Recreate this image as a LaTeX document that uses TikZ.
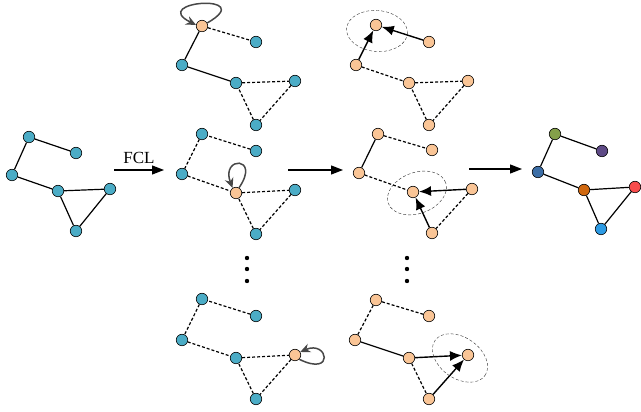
\documentclass[tikz,border=0pt]{standalone}
\usepackage{fontspec}
\setmainfont{Liberation Serif}
\usetikzlibrary{arrows.meta,shapes.geometric}

\definecolor{nodeblue}{HTML}{4BACC6}
\definecolor{nodepeach}{HTML}{FAC596}
\definecolor{colA}{HTML}{84A04A}
\definecolor{colB}{HTML}{5E4A86}
\definecolor{colC}{HTML}{3C6EA6}
\definecolor{colD}{HTML}{D0680F}
\definecolor{colE}{HTML}{F84C4C}
\definecolor{colF}{HTML}{2D9BE4}

\begin{document}
\begin{tikzpicture}[
	x=1pt, y=1pt,
	vertex/.style={ circle, draw, line width=0.6pt, inner sep=0pt, minimum size=11.5pt },
	vertexb/.style={ vertex, fill=nodeblue },
	vertexp/.style={ vertex, fill=nodepeach },
	vertexc/.style={ vertex, fill=#1 },
	link/.style={ line width=1.2pt },
	linkd/.style={ line width=1.2pt, dash pattern=on 3pt off 2pt },
	pass/.style={ line width=1.4pt, -{Latex[length=12pt,width=10pt]} },
	selfloop/.style={ draw=black!72, line width=1.5pt, -{Stealth[length=10pt,width=9pt]} },
	stage/.style={ line width=1.2pt, -{Triangle[length=12pt,width=9pt]} },
	ring/.style={ ellipse, draw=black!80, thin, dash pattern=on 3pt off 2pt, inner sep=0pt, minimum width=61pt, minimum height=41pt }
]
\useasboundingbox (0,0) rectangle (641,412);

% input graph
\node at (29,275) (ga) [vertexb] {};
\node at (76,259) (gb) [vertexb] {};
\node at (12,237) (gc) [vertexb] {};
\node at (58,221) (gd) [vertexb] {};
\node at (110,223) (ge) [vertexb] {};
\node at (76,181) (gf) [vertexb] {};
\draw[link] (gb) to (ga) to (gc) to (gd) to (ge) to (gf) to (gd);

% FCL, one copy per node
\node at (202,386) (pa) [vertexp] {};
\node at (256,370) (pb) [vertexb] {};
\node at (182,347) (pc) [vertexb] {};
\node at (236,329) (pd) [vertexb] {};
\node at (295,331) (pe) [vertexb] {};
\node at (256,287) (pf) [vertexb] {};
\draw[link] (pa) to (pc) to (pd);
\draw[linkd] (pa) to (pb);
\draw[linkd] (pd) to (pe) to (pf) to (pd);
\draw[selfloop] (pa.30) .. controls +(52,30) and +(-48,24) .. (pa.170);

\node at (202,278) (qa) [vertexb] {};
\node at (256,261) (qb) [vertexb] {};
\node at (182,238) (qc) [vertexb] {};
\node at (236,219) (qd) [vertexp] {};
\node at (295,222) (qe) [vertexb] {};
\node at (256,178) (qf) [vertexb] {};
\draw[linkd] (qb) to (qa) to (qc) to (qd) to (qe) to (qf) to (qd);
\draw[selfloop] (qd.60) .. controls +(22,32) and +(-12,32) .. (qd.125);

\node at (202,113) (ra) [vertexb] {};
\node at (256,96) (rb) [vertexb] {};
\node at (182,72) (rc) [vertexb] {};
\node at (236,54) (rd) [vertexb] {};
\node at (295,57) (re) [vertexp] {};
\node at (256,13) (rf) [vertexb] {};
\draw[linkd] (rb) to (ra) to (rc) to (rd) to (re) to (rf) to (rd);
\draw[selfloop] (re.-45) .. controls (335,35) and (328,72) .. (re.30);

\fill (247,154) circle (2.2);
\fill (247,143) circle (2.2);
\fill (247,131) circle (2.2);

% aggregation towards the centre node
\node at (376,387) (sa) [vertexp] {};
\node at (429,370) (sb) [vertexp] {};
\node at (356,347) (sc) [vertexp] {};
\node at (409,329) (sd) [vertexp] {};
\node at (468,331) (se) [vertexp] {};
\node at (429,287) (sf) [vertexp] {};
\draw[linkd] (sc) to (sd) to (se) to (sf) to (sd);
\draw[pass] (sc) to (sa);
\draw[pass] (sb) to (sa);
\node at (377,381) [ring, rotate=-5] {};

\node at (378,278) (ta) [vertexp] {};
\node at (432,262) (tb) [vertexp] {};
\node at (359,239) (tc) [vertexp] {};
\node at (413,220) (td) [vertexp] {};
\node at (472,223) (te) [vertexp] {};
\node at (432,179) (tf) [vertexp] {};
\draw[link] (ta) to (tc);
\draw[linkd] (ta) to (tb);
\draw[linkd] (tc) to (td);
\draw[linkd] (te) to (tf);
\draw[pass] (te) to (td);
\draw[pass] (tf) to (td);
\node at (417,219) [ring, rotate=20] {};

\node at (376,112) (ua) [vertexp] {};
\node at (429,96) (ub) [vertexp] {};
\node at (355,72) (uc) [vertexp] {};
\node at (409,54) (ud) [vertexp] {};
\node at (468,57) (ue) [vertexp] {};
\node at (429,13) (uf) [vertexp] {};
\draw[linkd] (ub) to (ua) to (uc);
\draw[link] (uc) to (ud);
\draw[linkd] (ud) to (uf);
\draw[pass] (ud) to (ue);
\draw[pass] (uf) to (ue);
\node at (460,54) [ring, rotate=-35] {};

\fill (407,154) circle (2.2);
\fill (407,143) circle (2.2);
\fill (407,131) circle (2.2);

% output graph
\node at (555,278) (oa) [vertexc=colA] {};
\node at (602,261) (ob) [vertexc=colB] {};
\node at (538,240) (oc) [vertexc=colC] {};
\node at (584,222) (od) [vertexc=colD] {};
\node at (635,225) (oe) [vertexc=colE] {};
\node at (601,183) (of) [vertexc=colF] {};
\draw[link] (ob) to (oa) to (oc) to (od) to (oe) to (of) to (od);

% stages
\coordinate (s1) at (114,242);
\coordinate (s2) at (164,242);
\coordinate (s3) at (288,242);
\coordinate (s4) at (343,242);
\coordinate (s5) at (469,243);
\coordinate (s6) at (522,243);
\draw[stage] (s1) to node[above=2pt] {\fontsize{17}{20}\selectfont FCL} (s2);
\draw[stage] (s3) to (s4);
\draw[stage] (s5) to (s6);

\end{tikzpicture}
\end{document}
